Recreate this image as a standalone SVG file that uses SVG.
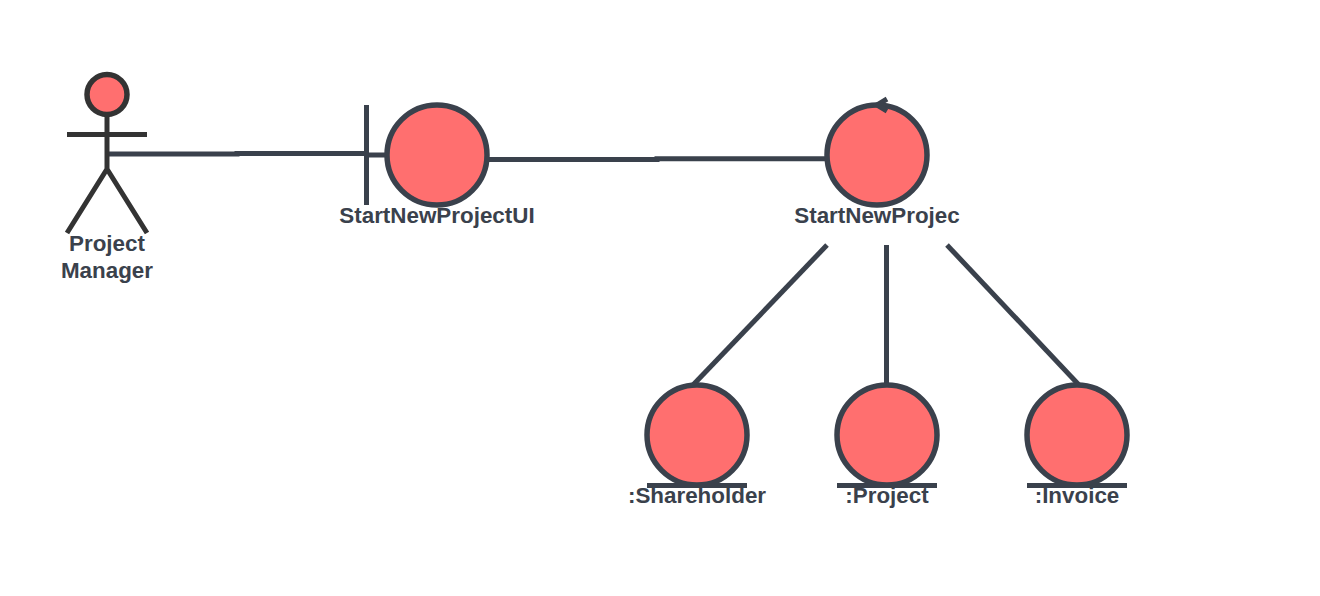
<svg xmlns="http://www.w3.org/2000/svg" width="1320" height="596" viewBox="0 0 1320 596">
<style>
.c{fill:#ff6f6f;stroke:#3a414c;stroke-width:5.500}
.l{fill:none;stroke:#3a414c;stroke-width:5}
.a{fill:none;stroke:#333333;stroke-width:5}
.t{font:bold 22.400px "Liberation Sans",Arial,sans-serif;fill:#3a414c;text-anchor:middle}
</style>
<rect width="1320" height="596" fill="#ffffff"/>
<g id="connectors">
<path class="l" d="M107 154H237V153.500H366"/>
<path class="l" d="M488 159.500H657V158.800H826"/>
<path class="l" d="M827 245L693 385"/>
<path class="l" d="M886.500 245V385"/>
<path class="l" d="M947 245L1079 385"/>
</g>
<g id="actor">
<path class="a" d="M107 115V169M67 134.500H147M107 169L67 233M107 169L147 233"/>
<circle cx="107" cy="94.500" r="20" fill="#ff6f6f" stroke="#333333" stroke-width="5.500"/>
<text class="t" x="107" y="251">Project</text>
<text class="t" x="107" y="278">Manager</text>
</g>
<g id="boundary">
<path class="l" d="M366.500 105V205M366 155H387"/>
<circle class="c" cx="437" cy="155" r="50"/>
<text class="t" x="437" y="223">StartNewProjectUI</text>
</g>
<g id="control">
<circle class="c" cx="877" cy="155" r="50"/>
<path class="l" d="M887 99L877 105L887 111"/>
<text class="t" x="877" y="223">StartNewProjec</text>
</g>
<g id="shareholder">
<circle class="c" cx="697" cy="435" r="50"/>
<path class="l" d="M647 485.500H747"/>
<text class="t" x="697" y="503">:Shareholder</text>
</g>
<g id="project">
<circle class="c" cx="887" cy="435" r="50"/>
<path class="l" d="M837 485.500H937"/>
<text class="t" x="887" y="503">:Project</text>
</g>
<g id="invoice">
<circle class="c" cx="1077" cy="435" r="50"/>
<path class="l" d="M1027 485.500H1127"/>
<text class="t" x="1077" y="503">:Invoice</text>
</g>
</svg>
